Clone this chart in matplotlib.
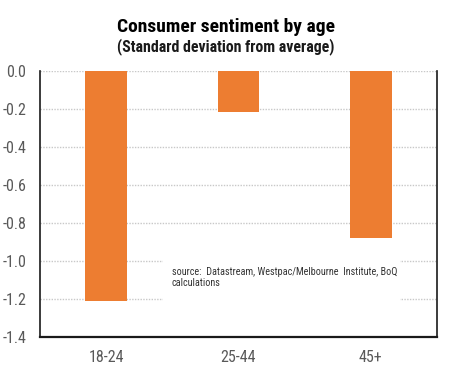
import matplotlib
matplotlib.use("Agg")
import matplotlib.pyplot as plt
from matplotlib.patches import Rectangle

categories = ["18-24", "25-44", "45+"]
values = [-1.21, -0.215, -0.88]
yticks = [0.0, -0.2, -0.4, -0.6, -0.8, -1.0, -1.2, -1.4]
title = "Consumer sentiment by age"
subtitle = "(Standard deviation from average)"
source = "source:  Datastream, Westpac/Melbourne  Institute, BoQ\ncalculations"

plt.rcParams['font.family'] = ["Roboto Condensed", 'DejaVu Sans']

fig = plt.figure(figsize=(4.52, 3.77), dpi=100)
ax = fig.add_axes([40/452, 1-337/377, 397/452, 266/377])

x = range(len(categories))
ax.bar(x, values, width=0.315, color="#ED7D31", zorder=3)
ax.set_xlim(-0.5, 2.5)
ax.set_ylim(-1.4, 0.0)
ax.set_yticks(yticks)
ax.set_yticklabels([f"{v:.1f}" for v in yticks])
ax.set_xticks(list(x))
ax.set_xticklabels(categories)
ax.tick_params(axis='both', length=0, labelsize=11.5, colors="#595959")
ax.tick_params(axis='x', pad=9)
ax.tick_params(axis='y', pad=10)
ax.grid(axis='y', color="#C8C8C8", linestyle=(0, (1, 1)), linewidth=1, zorder=0)
ax.set_axisbelow(True)
for s in ["left", "right"]:
    ax.spines[s].set_color("#1a1a1a")
    ax.spines[s].set_linewidth(1.2)
ax.spines["bottom"].set_color("#1a1a1a")
ax.spines["bottom"].set_linewidth(1.6)
ax.spines["top"].set_visible(False)

# white text box covering gridlines
box = Rectangle((163/452, 1-310/377), (400-163)/452, 60/377, transform=fig.transFigure,
                facecolor="white", edgecolor="none", zorder=5)
fig.patches.append(box)
fig.text(172/452, 1-267/377, source, fontsize=7.3, color="#333333", va="top", ha="left",
         linespacing=1.1, zorder=6)

fig.text(0.5, 1-27/377, title, ha="center", va="center", fontsize=14, fontweight="bold", color="black")
fig.text(0.5, 1-47/377, subtitle, ha="center", va="center", fontsize=11.4, fontweight="bold", color="#1a1a1a")

fig.savefig("out.png", dpi=100)
